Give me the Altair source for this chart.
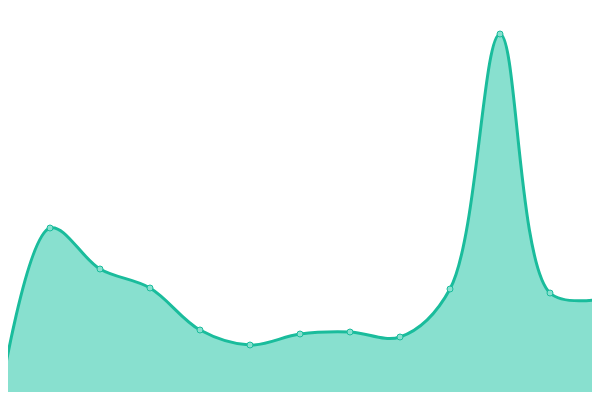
import altair as alt
import pandas as pd

xs = [0, 1, 2, 3, 4, 5, 6, 7, 8, 9, 10, 11, 12]
values = [3, 172, 131, 112, 70, 55, 66, 68, 63, 111, 366, 107, 101]

df = pd.DataFrame({"x": xs, "v": values})

xsc = alt.Scale(domain=[0, 12], nice=False, zero=False, range=[-8, 592])
ysc = alt.Scale(domain=[0, 400], nice=False, range=[392, -8])

base = alt.Chart(df).encode(
    x=alt.X("x:Q", scale=xsc, axis=None),
    y=alt.Y("v:Q", scale=ysc, axis=None),
)

area = base.mark_area(interpolate="catmull-rom", color="#88e0cf", opacity=1, clip=False)
line = base.mark_line(interpolate="catmull-rom", color="#1abc9c", strokeWidth=3, clip=False)
pts = base.mark_point(filled=False, shape="circle", size=36, fill="#88e0cf",
                      stroke="#1abc9c", strokeWidth=1, opacity=1, fillOpacity=1, clip=False)

chart = (area + line + pts).properties(
    width=584, height=384,
    padding=0,
    autosize=alt.AutoSizeParams(type="none"),
).configure_view(stroke=None)

chart.save("out.html", embed_options={"renderer": "svg", "actions": False})
